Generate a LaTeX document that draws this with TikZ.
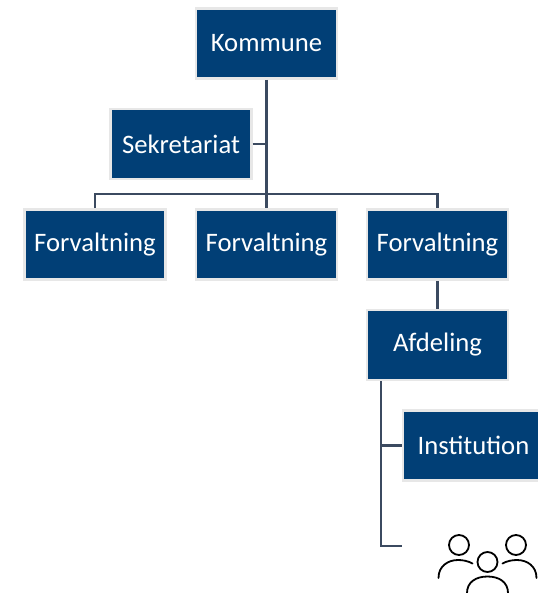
\documentclass[tikz,border=0pt]{standalone}
\usepackage{fontspec}
\setmainfont{Carlito}
\definecolor{boxblue}{HTML}{013F76}
\definecolor{boxedge}{HTML}{E7E7E7}
\definecolor{linkcol}{HTML}{3B4A60}
\tikzset{
  orgbox/.style={rectangle,fill=boxblue,draw=boxedge,line width=1.9pt,inner sep=0pt,
    minimum width=105.6pt,minimum height=52.8pt,text=white,font=\fontsize{20pt}{24pt}\selectfont},
  link/.style={draw=linkcol,line width=1.9pt},
  iconline/.style={draw=black,line width=1.35pt,line cap=round}
}
\begin{document}
\begin{tikzpicture}[x=0.75pt,y=-0.75pt]
\clip (0,0) rectangle (538,593);
\node[orgbox] (kommune) at (266.5,43.5) {Kommune};
\node[orgbox] (sekretariat) at (181,144) {Sekretariat};
\node[orgbox] (f1) at (95,244.5) {Forvaltning};
\node[orgbox] (f2) at (266.5,244.5) {Forvaltning};
\node[orgbox] (f3) at (437.5,244.5) {Forvaltning};
\node[orgbox] (afdeling) at (437.5,345) {Afdeling};
\node[orgbox] (institution) at (473.5,445.5) {Institution};
\coordinate (bus) at (266.5,194);
\coordinate (afstem) at (381,381);
\coordinate (afinst) at (381,445.5);
\coordinate (afend) at (381,546);
\coordinate (iconend) at (402,546);
\draw[link] (kommune.south) -- (f2.north);
\draw[link] (sekretariat.east) -- (sekretariat.east -| kommune.south);
\draw[link] (f1.north) |- (bus) -| (f3.north);
\draw[link] (f3.south) -- (afdeling.north);
\draw[link] (afstem) -- (afend) -- (iconend);
\draw[link] (afinst) -- (institution.west);
% people icon
\draw[iconline] (459,545) circle (10);
\draw[iconline] (516,545) circle (10);
\draw[iconline] (487.5,562) circle (10);
\draw[iconline] (438.5,578) .. controls (438.5,566) and (448,560) .. (458,560) .. controls (463,560) and (468,561) .. (472.5,563.5);
\draw[iconline] (536.5,578) .. controls (536.5,566) and (527,560) .. (517,560) .. controls (512,560) and (507,561) .. (502.5,563.5);
\draw[iconline] (467,593) .. controls (467,582) and (476,576.5) .. (487.5,576.5) .. controls (499,576.5) and (508,582) .. (508,593);
\end{tikzpicture}
\end{document}
